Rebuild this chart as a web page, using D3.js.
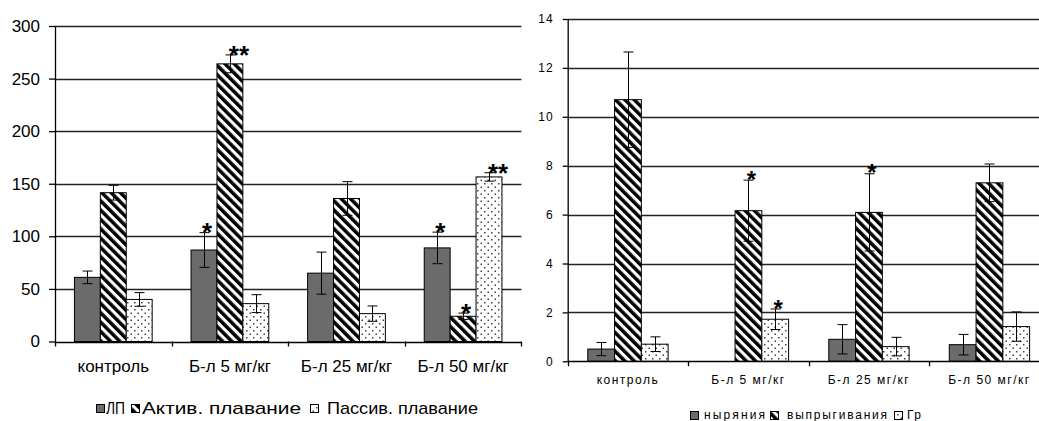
<!DOCTYPE html>
<html><head><meta charset="utf-8">
<script src="https://cdn.jsdelivr.net/npm/d3@7"></script>
<style>
body{margin:0;background:#fff}
svg{display:block}
text{font-family:Arial,"Liberation Sans",sans-serif;fill:#000}
</style>
</head><body><svg id="c" width="1039" height="421"></svg>
<script>
// ---------- data ----------
const categories = ["контроль", "Б-л 5 мг/кг", "Б-л 25 мг/кг", "Б-л 50 мг/кг"];

// left chart
const leftSeries = ["ЛП", "Актив. плавание", "Пассив. плавание"];
const leftLP = [61, 87, 65, 89];
const leftLPErr = [6, 16.5, 20, 15];
const leftActive = [141.5, 264, 136, 24];
const leftActiveErr = [7, 8.5, 16, 3];
const leftPassive = [40, 36, 26.5, 156.5];
const leftPassiveErr = [6.5, 8.5, 7.3, 4];
const leftStars = [["", "*", "", "*"], ["", "**", "", "*"], ["", "", "", "**"]];
const leftTicks = [0, 50, 100, 150, 200, 250, 300];

// right chart
const rightSeries = ["ныряния", "выпрыгивания", "Гр"];
const rightDive = [0.5, 0, 0.9, 0.68];
const rightDiveErr = [0.27, 0, 0.6, 0.42];
const rightJump = [10.7, 6.16, 6.09, 7.3];
const rightJumpErr = [1.95, 1.25, 1.58, 0.77];
const rightGr = [0.7, 1.72, 0.6, 1.42];
const rightGrErr = [0.3, 0.42, 0.38, 0.6];
const rightStars = [["", "", "", ""], ["", "*", "*", ""], ["", "*", "", ""]];
const rightTicks = [0, 2, 4, 6, 8, 10, 12, 14];

// ---------- drawing ----------
const svg = d3.select("#c");
svg.append("rect").attr("width", 1039).attr("height", 421).attr("fill", "#fff");
const defs = svg.append("defs");
const stripe = defs.append("pattern").attr("id", "stripe")
  .attr("patternUnits", "userSpaceOnUse").attr("width", 6.6).attr("height", 6.6)
  .attr("patternTransform", "rotate(-45)");
stripe.append("rect").attr("width", 6.6).attr("height", 6.6).attr("fill", "#fff");
stripe.append("rect").attr("width", 3.5).attr("height", 6.6).attr("fill", "#000");
const dots = defs.append("pattern").attr("id", "dots")
  .attr("patternUnits", "userSpaceOnUse").attr("width", 7).attr("height", 7);
dots.append("rect").attr("width", 7).attr("height", 7).attr("fill", "#fff");
dots.append("rect").attr("x", 1).attr("y", 1).attr("width", 1.5).attr("height", 1.5).attr("fill", "#444");
dots.append("rect").attr("x", 4.5).attr("y", 4.5).attr("width", 1.5).attr("height", 1.5).attr("fill", "#444");

const fills = ["#6b6b6b", "url(#stripe)", "url(#dots)"];

function drawChart(cfg) {
  const g = svg.append("g");
  const y = d3.scaleLinear().domain([0, cfg.max]).range([cfg.y0, cfg.yTop]);
  const x = d3.scaleBand().domain(categories).range([cfg.xl, cfg.xr]);
  const bw = x.bandwidth();
  const inner = d3.scaleBand().domain([0, 1, 2]).range([bw / 6, bw * 5 / 6]);

  // gridlines
  g.append("g").selectAll("line").data(cfg.ticks.filter(t => t > 0)).join("line")
    .attr("x1", cfg.xl).attr("x2", cfg.xr)
    .attr("y1", d => Math.round(y(d)) + 0.5).attr("y2", d => Math.round(y(d)) + 0.5)
    .attr("stroke", "#222").attr("stroke-width", 1.3);

  const series = cfg.series;
  series.forEach((s, si) => {
    g.append("g").selectAll("rect").data(categories).join("rect")
      .attr("x", c => x(c) + inner(si))
      .attr("width", inner.bandwidth())
      .attr("y", (c, i) => y(s.values[i]))
      .attr("height", (c, i) => y(0) - y(s.values[i]))
      .attr("fill", fills[si]).attr("stroke", "#000").attr("stroke-width", 1);
  });
  // error bars
  series.forEach((s, si) => {
    categories.forEach((c, i) => {
      const e = s.err[i];
      if (!e) return;
      const cx = Math.round(x(c) + inner(si) + inner.bandwidth() / 2) + 0.5;
      const eb = g.append("g").attr("stroke", "#000").attr("stroke-width", 1);
      eb.append("line").attr("x1", cx).attr("x2", cx).attr("y1", y(s.values[i] + e)).attr("y2", y(s.values[i] - e));
      [s.values[i] + e, s.values[i] - e].forEach(v => {
        eb.append("line").attr("x1", cx - 5).attr("x2", cx + 5).attr("y1", y(v)).attr("y2", y(v));
      });
    });
  });
  // stars
  series.forEach((s, si) => {
    categories.forEach((c, i) => {
      const t = s.stars[i];
      if (!t) return;
      const cx = x(c) + inner(si) + inner.bandwidth() / 2 + (t.length > 1 ? 9 : 3);
      const top = y(s.values[i] + (s.err[i] || 0));
      g.append("text").attr("x", cx).attr("y", top - cfg.starLift + cfg.starSize * 0.57)
        .attr("text-anchor", "middle").attr("font-size", cfg.starSize).attr("font-weight", "bold")
        .text(t);
    });
  });

  // y axis
  const ya = g.append("g").attr("transform", `translate(${cfg.xl},0)`)
    .call(d3.axisLeft(y).tickValues(cfg.ticks).tickSize(cfg.tickLen).tickSizeOuter(0).tickPadding(cfg.tickPad));
  ya.select(".domain").attr("stroke", "#000").attr("stroke-width", 1.3);
  ya.selectAll(".tick line").attr("stroke", "#000").attr("stroke-width", 1.3);
  ya.selectAll(".tick text").attr("font-size", cfg.tickFont).attr("letter-spacing", cfg.tickSpacing)
    .attr("font-family", "Arial, 'Liberation Sans', sans-serif").attr("fill", "#000");

  // x axis
  g.append("line").attr("x1", cfg.xl).attr("x2", cfg.xr)
    .attr("y1", Math.round(y(0)) + 0.5).attr("y2", Math.round(y(0)) + 0.5)
    .attr("stroke", "#000").attr("stroke-width", 1.3);
  const bounds = categories.map(c => x(c)).concat([cfg.xr]);
  g.append("g").selectAll("line").data(bounds).join("line")
    .attr("x1", d => Math.round(d) + 0.5).attr("x2", d => Math.round(d) + 0.5)
    .attr("y1", y(0)).attr("y2", y(0) + 5).attr("stroke", "#000").attr("stroke-width", 1.3);
  const xa = g.append("g").attr("transform", `translate(0,${cfg.catY})`)
    .call(d3.axisBottom(x).tickSize(0).tickPadding(0));
  xa.select(".domain").remove();
  xa.selectAll(".tick text").attr("font-size", cfg.catFont).attr("letter-spacing", cfg.catSpacing)
    .attr("font-family", "Arial, 'Liberation Sans', sans-serif").attr("fill", "#000")
    .attr("dy", "0.35em");

  // legend
  const lg = g.append("g");
  series.forEach((s, si) => {
    const L = cfg.legend[si];
    lg.append("rect").attr("x", L.box + 0.5).attr("y", cfg.legY - cfg.legBox / 2 + 0.5)
      .attr("width", cfg.legBox).attr("height", cfg.legBox)
      .attr("fill", fills[si]).attr("stroke", "#000").attr("stroke-width", 1);
    const t = lg.append("text").attr("x", L.text).attr("y", cfg.legY)
      .attr("dy", "0.35em").attr("font-size", cfg.legFont)
      .text(s.name);
    if (L.len) t.attr("textLength", L.len).attr("lengthAdjust", L.adjust || "spacing");
    if (L.spacing) t.attr("letter-spacing", L.spacing);
  });
}

drawChart({
  max: 300, y0: 341.5, yTop: 26, xl: 55, xr: 521.4,
  ticks: leftTicks, tickLen: 6, tickPad: 9, tickFont: 17, tickSpacing: 0,
  catY: 366, catFont: 17, catSpacing: 0,
  starSize: 26, starLift: 6,
  legY: 408, legBox: 8, legFont: 17,
  legend: [{ box: 96, text: 106, len: 19, adjust: "spacingAndGlyphs" },
           { box: 131, text: 142, len: 159, adjust: "spacingAndGlyphs" },
           { box: 310, text: 327, len: 151, adjust: "spacingAndGlyphs" }],
  series: [
    { name: leftSeries[0], values: leftLP, err: leftLPErr, stars: leftStars[0] },
    { name: leftSeries[1], values: leftActive, err: leftActiveErr, stars: leftStars[1] },
    { name: leftSeries[2], values: leftPassive, err: leftPassiveErr, stars: leftStars[2] }
  ]
});

drawChart({
  max: 14, y0: 361.3, yTop: 19, xl: 567.7, xr: 1049.7,
  ticks: rightTicks, tickLen: 5, tickPad: 9, tickFont: 12, tickSpacing: 1,
  catY: 379.5, catFont: 12, catSpacing: 1.5,
  starSize: 24, starLift: 6,
  legY: 415, legBox: 8, legFont: 12,
  legend: [{ box: 690, text: 704, len: 61 }, { box: 770, text: 787, len: 100 }, { box: 894, text: 907, spacing: 1.5 }],
  series: [
    { name: rightSeries[0], values: rightDive, err: rightDiveErr, stars: rightStars[0] },
    { name: rightSeries[1], values: rightJump, err: rightJumpErr, stars: rightStars[1] },
    { name: rightSeries[2], values: rightGr, err: rightGrErr, stars: rightStars[2] }
  ]
});
</script>
</body></html>
